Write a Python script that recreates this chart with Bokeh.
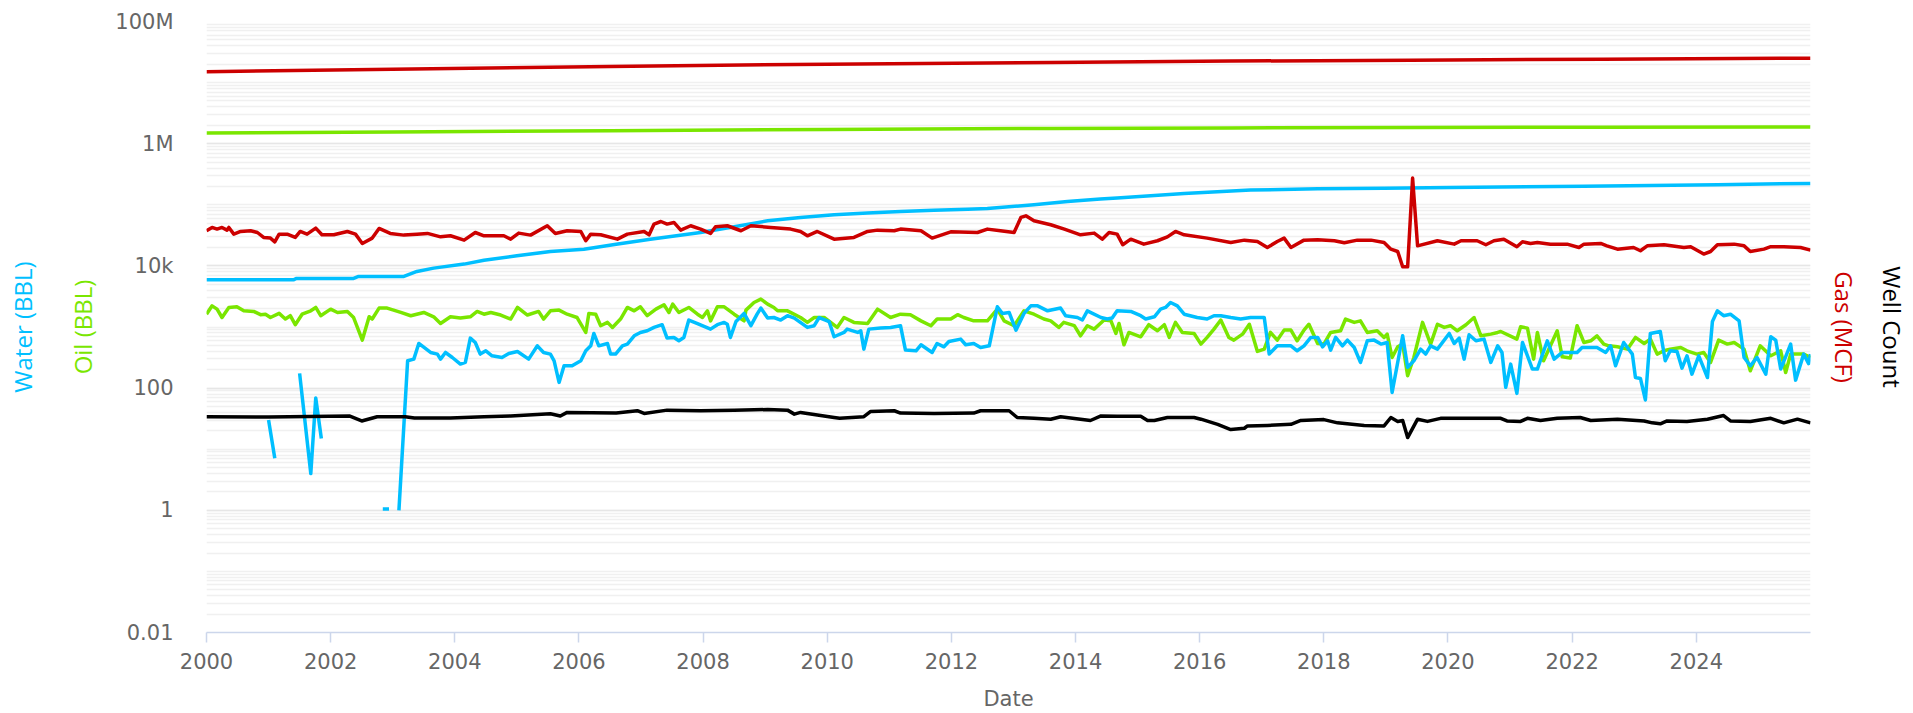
from bokeh.plotting import figure
from bokeh.models import Range1d, FixedTicker, CustomJSTickFormatter, NumeralTickFormatter, LinearAxis
from bokeh.embed import file_html
from bokeh.resources import INLINE

nan = float("nan")

# ---------------- data ----------------
cum_t = [2000.0, 2003.0, 2006.5, 2010.0, 2013.6, 2016.5, 2019.4, 2022.5, 2025.84]
gas_cum = [15.1e6, 16.5e6, 18.4e6, 20.0e6, 21.4e6, 22.5e6, 23.3e6, 24.2e6, 25.1e6]
oil_cum = [1.49e6, 1.56e6, 1.63e6, 1.71e6, 1.78e6, 1.81e6, 1.84e6, 1.86e6, 1.88e6]

water_cum = [
    (2000.0, 5930), (2001.4, 5930), (2001.45, 6230), (2002.37, 6230), (2002.45, 6710),
    (2003.18, 6710), (2003.39, 8110), (2003.66, 9200), (2004.15, 10700), (2004.47, 12400),
    (2005.0, 14600), (2005.54, 17200), (2006.08, 18800), (2006.6, 22700), (2007.15, 27400),
    (2007.96, 35200), (2008.5, 43700), (2009.04, 54700), (2009.57, 62100), (2010.11, 68700),
    (2010.65, 73100), (2011.18, 77800), (2011.72, 81800), (2012.26, 84900), (2012.58, 87100),
    (2013.33, 100000), (2013.87, 113000), (2014.4, 124000), (2014.67, 129000), (2015.75, 153000),
    (2016.82, 174000), (2017.9, 183000), (2018.97, 187000), (2020.04, 192000), (2022.19, 202000),
    (2024.34, 213000), (2025.84, 224000),
]

gas_monthly = [
    (2000.00, 37600), (2000.09, 42600), (2000.17, 40000), (2000.25, 42600), (2000.33, 38500),
    (2000.36, 42600), (2000.44, 33100), (2000.55, 36600), (2000.71, 37600), (2000.82, 35200),
    (2000.92, 29200), (2001.03, 28500), (2001.10, 24800), (2001.17, 33100), (2001.30, 33100),
    (2001.43, 29200), (2001.51, 36600), (2001.62, 33100), (2001.76, 41500), (2001.86, 32300),
    (2002.05, 32300), (2002.27, 36600), (2002.40, 33100), (2002.51, 23300), (2002.67, 28500),
    (2002.78, 41000), (2002.96, 34000), (2003.18, 31900), (2003.39, 33100), (2003.56, 34000),
    (2003.77, 29900), (2003.93, 31100), (2004.15, 26400), (2004.33, 35200), (2004.47, 31100),
    (2004.79, 31100), (2004.90, 27400), (2005.03, 34400), (2005.22, 31900), (2005.49, 45400),
    (2005.62, 34000), (2005.81, 37600), (2006.03, 36600), (2006.11, 25800), (2006.19, 33100),
    (2006.35, 32300), (2006.62, 27400), (2006.78, 33100), (2007.05, 36600), (2007.13, 32300),
    (2007.21, 48300), (2007.32, 53300), (2007.42, 48300), (2007.53, 51400), (2007.64, 38500),
    (2007.80, 45400), (2007.96, 40000), (2008.12, 34000), (2008.20, 43700), (2008.39, 45400),
    (2008.61, 37600), (2008.77, 45400), (2009.09, 42600), (2009.41, 40000), (2009.57, 36600),
    (2009.68, 31100), (2009.84, 36600), (2010.11, 27400), (2010.43, 29200), (2010.65, 36600),
    (2010.81, 38500), (2011.08, 37600), (2011.18, 40000), (2011.51, 37600), (2011.69, 28500),
    (2011.99, 36100), (2012.42, 35200), (2012.58, 40000), (2012.79, 37600), (2013.01, 35200),
    (2013.12, 62100), (2013.20, 66100), (2013.33, 54700), (2013.60, 47100), (2013.82, 40000),
    (2014.08, 32300), (2014.30, 34400), (2014.43, 27400), (2014.54, 35200), (2014.67, 33100),
    (2014.76, 22200), (2014.89, 27400), (2015.10, 22700), (2015.32, 25800), (2015.48, 29900),
    (2015.61, 36600), (2015.75, 32300), (2016.12, 28500), (2016.50, 24200), (2016.72, 26400),
    (2016.93, 25100), (2017.09, 20000), (2017.25, 25100), (2017.36, 28500), (2017.47, 20000),
    (2017.68, 26400), (2017.90, 26700), (2018.17, 25800), (2018.33, 23900), (2018.54, 26400),
    (2018.76, 26400), (2018.97, 24200), (2019.08, 18800), (2019.19, 17200), (2019.27, 9660),
    (2019.35, 9660), (2019.43, 274000), (2019.51, 21300), (2019.83, 25800), (2020.10, 22700),
    (2020.21, 25800), (2020.47, 25800), (2020.61, 22200), (2020.74, 25800), (2020.90, 27400),
    (2021.11, 20600), (2021.20, 24800), (2021.33, 23300), (2021.44, 24200), (2021.65, 22700),
    (2021.92, 22700), (2022.11, 20000), (2022.19, 22700), (2022.46, 23300), (2022.56, 21300),
    (2022.73, 18800), (2022.99, 20000), (2023.10, 17700), (2023.21, 21300), (2023.48, 22200),
    (2023.80, 20000), (2023.91, 20600), (2024.12, 15600), (2024.23, 17200), (2024.34, 22200),
    (2024.61, 22700), (2024.77, 21300), (2024.87, 17200), (2025.09, 18800), (2025.20, 20600),
    (2025.41, 20600), (2025.68, 20000), (2025.84, 18100),
]

oil_monthly = [
    (2000.00, 1620), (2000.09, 2220), (2000.17, 1960), (2000.25, 1430), (2000.36, 2090),
    (2000.49, 2140), (2000.60, 1840), (2000.76, 1800), (2000.87, 1590), (2000.95, 1620),
    (2001.03, 1430), (2001.17, 1670), (2001.27, 1350), (2001.35, 1530), (2001.43, 1090),
    (2001.54, 1620), (2001.68, 1840), (2001.76, 2090), (2001.84, 1530), (2002.00, 1960),
    (2002.11, 1730), (2002.27, 1800), (2002.37, 1430), (2002.51, 610), (2002.62, 1470),
    (2002.67, 1350), (2002.78, 2040), (2002.91, 2040), (2003.13, 1730), (2003.29, 1530),
    (2003.50, 1730), (2003.66, 1470), (2003.77, 1140), (2003.93, 1470), (2004.09, 1400),
    (2004.25, 1470), (2004.36, 1800), (2004.47, 1620), (2004.58, 1730), (2004.74, 1570),
    (2004.90, 1350), (2005.01, 2090), (2005.17, 1570), (2005.35, 1800), (2005.43, 1350),
    (2005.54, 1840), (2005.68, 1890), (2005.81, 1620), (2005.97, 1430), (2006.11, 815),
    (2006.16, 1670), (2006.27, 1620), (2006.35, 1050), (2006.46, 1190), (2006.54, 984),
    (2006.67, 1350), (2006.78, 2090), (2006.89, 1840), (2006.99, 2140), (2007.10, 1530),
    (2007.24, 1960), (2007.37, 2310), (2007.45, 1730), (2007.51, 2370), (2007.61, 1730),
    (2007.77, 2090), (2007.91, 1620), (2007.99, 1430), (2008.07, 1840), (2008.12, 1260),
    (2008.23, 2140), (2008.34, 2140), (2008.50, 1620), (2008.66, 1260), (2008.69, 1890),
    (2008.82, 2520), (2008.93, 2860), (2009.04, 2370), (2009.14, 2090), (2009.20, 1840),
    (2009.36, 1840), (2009.57, 1430), (2009.68, 1190), (2009.79, 1430), (2009.95, 1430),
    (2010.16, 984), (2010.27, 1430), (2010.43, 1190), (2010.65, 1140), (2010.81, 1960),
    (2011.02, 1430), (2011.18, 1620), (2011.34, 1590), (2011.51, 1260), (2011.67, 1050),
    (2011.77, 1350), (2011.99, 1350), (2012.10, 1590), (2012.20, 1430), (2012.36, 1260),
    (2012.58, 1260), (2012.74, 1960), (2012.85, 1260), (2013.01, 1050), (2013.17, 1840),
    (2013.33, 1620), (2013.49, 1350), (2013.60, 1260), (2013.73, 984), (2013.81, 1190),
    (2013.98, 1050), (2014.08, 718), (2014.19, 1050), (2014.30, 923), (2014.46, 1300),
    (2014.57, 1260), (2014.65, 784), (2014.70, 1140), (2014.78, 512), (2014.86, 815),
    (2015.05, 692), (2015.18, 1090), (2015.32, 867), (2015.43, 1090), (2015.51, 675),
    (2015.61, 1190), (2015.72, 815), (2015.91, 784), (2016.02, 525), (2016.12, 675),
    (2016.23, 923), (2016.34, 1300), (2016.47, 675), (2016.55, 610), (2016.69, 764),
    (2016.80, 1110), (2016.93, 398), (2017.04, 434), (2017.14, 815), (2017.25, 610),
    (2017.36, 889), (2017.47, 889), (2017.57, 595), (2017.68, 889), (2017.76, 1110),
    (2017.90, 538), (2018.00, 525), (2018.11, 815), (2018.27, 867), (2018.35, 1350),
    (2018.49, 1190), (2018.59, 1260), (2018.70, 815), (2018.86, 867), (2018.97, 675),
    (2019.02, 764), (2019.10, 317), (2019.19, 474), (2019.27, 525), (2019.35, 159),
    (2019.45, 317), (2019.59, 1190), (2019.72, 525), (2019.83, 1110), (2019.94, 984),
    (2020.04, 1050), (2020.15, 867), (2020.29, 1090), (2020.42, 1430), (2020.53, 718),
    (2020.69, 764), (2020.80, 815), (2020.85, 845), (2021.11, 634), (2021.17, 1010),
    (2021.28, 959), (2021.38, 298), (2021.44, 815), (2021.54, 280), (2021.65, 492),
    (2021.76, 867), (2021.84, 325), (2021.97, 310), (2022.08, 1050), (2022.19, 558),
    (2022.30, 595), (2022.40, 718), (2022.51, 525), (2022.59, 492), (2022.73, 474),
    (2022.89, 434), (2023.02, 675), (2023.16, 538), (2023.26, 634), (2023.37, 360),
    (2023.48, 408), (2023.58, 434), (2023.75, 462), (2023.85, 408), (2024.01, 360),
    (2024.12, 383), (2024.23, 263), (2024.36, 610), (2024.50, 525), (2024.61, 558),
    (2024.77, 434), (2024.87, 192), (2025.03, 492), (2025.20, 338), (2025.36, 408),
    (2025.44, 180), (2025.52, 360), (2025.73, 360), (2025.84, 317),
]

water_monthly = [
    (2001.00, 30), (2001.10, 7.1), (2001.30, nan),
    (2001.50, 174), (2001.68, 4.0), (2001.76, 69), (2001.85, 15), (2002.30, nan),
    (2002.84, 1.05), (2002.94, 1.05), (2003.02, nan),
    (2003.10, 1.0), (2003.24, 280), (2003.34, 298), (2003.42, 538), (2003.61, 383),
    (2003.72, 360), (2003.77, 298), (2003.85, 383), (2003.96, 317), (2004.09, 247),
    (2004.17, 263), (2004.25, 658), (2004.33, 558), (2004.41, 360), (2004.50, 408),
    (2004.60, 338), (2004.76, 317), (2004.87, 369), (2005.01, 398), (2005.19, 298),
    (2005.33, 492), (2005.43, 383), (2005.54, 360), (2005.60, 280), (2005.68, 124),
    (2005.76, 232), (2005.89, 232), (2006.03, 280), (2006.11, 408), (2006.19, 492),
    (2006.24, 784), (2006.32, 492), (2006.46, 538), (2006.51, 360), (2006.59, 360),
    (2006.70, 492), (2006.78, 525), (2006.89, 718), (2006.99, 815), (2007.10, 867),
    (2007.21, 984), (2007.34, 1090), (2007.42, 658), (2007.53, 675), (2007.61, 595),
    (2007.69, 675), (2007.77, 1300), (2007.91, 1140), (2008.12, 923), (2008.23, 1090),
    (2008.34, 1190), (2008.39, 1110), (2008.44, 675), (2008.53, 1230), (2008.66, 1670),
    (2008.77, 1050), (2008.87, 1620), (2008.93, 2040), (2009.04, 1400), (2009.14, 1430),
    (2009.25, 1300), (2009.36, 1530), (2009.47, 1400), (2009.68, 984), (2009.79, 1050),
    (2009.87, 1430), (2010.03, 1230), (2010.11, 692), (2010.27, 815), (2010.32, 923),
    (2010.49, 815), (2010.54, 867), (2010.59, 434), (2010.67, 923), (2010.86, 959),
    (2011.02, 984), (2011.18, 1050), (2011.26, 419), (2011.43, 408), (2011.51, 512),
    (2011.69, 383), (2011.77, 538), (2011.88, 474), (2011.96, 580), (2012.15, 634),
    (2012.23, 512), (2012.36, 538), (2012.47, 462), (2012.61, 492), (2012.74, 2140),
    (2012.82, 1670), (2012.93, 1730), (2013.04, 889), (2013.17, 1670), (2013.28, 2220),
    (2013.39, 2220), (2013.55, 1840), (2013.76, 2040), (2013.84, 1530), (2014.03, 1430),
    (2014.11, 1300), (2014.19, 1840), (2014.41, 1430), (2014.51, 1350), (2014.59, 1400),
    (2014.67, 1840), (2014.89, 1800), (2015.05, 1530), (2015.13, 1350), (2015.27, 1470),
    (2015.37, 1960), (2015.45, 2090), (2015.53, 2520), (2015.64, 2220), (2015.75, 1620),
    (2015.96, 1430), (2016.12, 1350), (2016.23, 1530), (2016.34, 1530), (2016.50, 1430),
    (2016.66, 1350), (2016.82, 1430), (2017.04, 1430), (2017.12, 360), (2017.25, 492),
    (2017.47, 492), (2017.57, 408), (2017.68, 492), (2017.79, 675), (2017.90, 675),
    (2017.98, 474), (2018.06, 595), (2018.11, 419), (2018.19, 675), (2018.30, 492),
    (2018.38, 610), (2018.49, 462), (2018.59, 263), (2018.70, 595), (2018.81, 610),
    (2018.92, 525), (2019.02, 558), (2019.10, 85), (2019.27, 718), (2019.35, 218),
    (2019.45, 280), (2019.56, 434), (2019.64, 360), (2019.72, 492), (2019.83, 434),
    (2020.02, 784), (2020.10, 538), (2020.18, 658), (2020.26, 298), (2020.34, 746),
    (2020.45, 595), (2020.58, 634), (2020.69, 263), (2020.80, 492), (2020.87, 383),
    (2020.93, 103), (2021.01, 247), (2021.11, 82), (2021.20, 558), (2021.36, 205),
    (2021.44, 205), (2021.60, 595), (2021.71, 298), (2021.84, 383), (2022.08, 383),
    (2022.16, 462), (2022.40, 462), (2022.54, 383), (2022.62, 492), (2022.70, 232),
    (2022.83, 558), (2022.97, 360), (2023.02, 149), (2023.10, 144), (2023.18, 64),
    (2023.26, 784), (2023.42, 845), (2023.50, 280), (2023.58, 408), (2023.69, 398),
    (2023.77, 212), (2023.85, 338), (2023.93, 169), (2024.04, 338), (2024.18, 149),
    (2024.26, 1230), (2024.34, 1840), (2024.44, 1530), (2024.55, 1620), (2024.69, 1260),
    (2024.77, 317), (2024.87, 232), (2024.98, 317), (2025.12, 169), (2025.20, 692),
    (2025.28, 610), (2025.36, 205), (2025.52, 525), (2025.60, 135), (2025.73, 360),
    (2025.81, 252), (2025.84, 360),
]

well_count = [
    (2000.00, 34), (2001.00, 33.5), (2002.30, 35), (2002.50, 29), (2002.75, 34),
    (2003.20, 34), (2003.35, 32.5), (2003.93, 32.5), (2004.47, 34), (2004.90, 35),
    (2005.54, 38), (2005.70, 35), (2005.81, 40), (2006.60, 39), (2006.94, 42.6),
    (2007.05, 38.5), (2007.42, 43.6), (2007.96, 42.6), (2008.50, 43.6), (2009.04, 44.6),
    (2009.36, 43.6), (2009.47, 37.5), (2009.57, 40), (2010.11, 33), (2010.20, 32),
    (2010.59, 34), (2010.70, 41.5), (2011.08, 42.6), (2011.18, 39), (2011.72, 38.5),
    (2012.36, 39), (2012.47, 42.6), (2012.93, 42.6), (2013.06, 33), (2013.33, 32),
    (2013.60, 31), (2013.76, 34), (2014.24, 29.5), (2014.41, 35), (2014.67, 34.5),
    (2015.05, 34.5), (2015.16, 29.5), (2015.27, 29.5), (2015.48, 33), (2015.91, 33),
    (2016.02, 31), (2016.29, 25.5), (2016.50, 21), (2016.72, 22), (2016.77, 24),
    (2017.09, 24.5), (2017.47, 25.5), (2017.63, 29.5), (2018.00, 30.5), (2018.22, 27),
    (2018.65, 24.5), (2018.97, 24), (2019.08, 33), (2019.19, 28.5), (2019.27, 29.5),
    (2019.35, 15.5), (2019.51, 31), (2019.67, 28.5), (2019.88, 32), (2020.85, 32),
    (2020.95, 29), (2021.17, 28.5), (2021.28, 32), (2021.49, 29.5), (2021.76, 32),
    (2022.13, 33), (2022.30, 29.5), (2022.73, 31), (2023.16, 29), (2023.29, 27),
    (2023.42, 26), (2023.53, 29), (2023.85, 28.5), (2024.18, 31), (2024.44, 35.5),
    (2024.55, 29), (2024.87, 28.5), (2025.20, 32), (2025.41, 27), (2025.63, 31),
    (2025.84, 27),
]

x_ticks = [2000, 2002, 2004, 2006, 2008, 2010, 2012, 2014, 2016, 2018, 2020, 2022, 2024]
y_ticks = [0.01, 1, 100, 1e4, 1e6, 1e8]

# ---------------- colours / styles ----------------
RED = "#CC0000"
GREEN = "#7AE600"
BLUE = "#00BFFF"
BLACK = "#000000"
GREY = "#666666"

W, H = 1913, 713
p = figure(width=W, height=H, x_range=Range1d(2000, 2025.84), y_range=Range1d(0.01, 1e8),
           y_axis_type="log", output_backend="svg", toolbar_location=None,
           min_border_left=206, min_border_right=103, min_border_top=21, min_border_bottom=81)
p.outline_line_color = None
p.background_fill_color = "white"
p.border_fill_color = "white"

minor = [k * 10.0 ** d for d in range(-2, 8) for k in range(1, 10)]
p.yaxis.ticker = FixedTicker(ticks=y_ticks, minor_ticks=minor)
p.yaxis.formatter = CustomJSTickFormatter(code="""
if (tick >= 1e6) return (tick/1e6).toFixed(0) + 'M';
if (tick >= 1e3) return (tick/1e3).toFixed(0) + 'k';
return String(tick);
""")
p.yaxis.axis_line_color = None
p.yaxis.major_tick_line_color = None
p.yaxis.minor_tick_line_color = None
p.yaxis.major_tick_out = 0
p.yaxis.minor_tick_out = 0
p.yaxis.major_label_text_color = GREY
p.yaxis.major_label_text_font = "DejaVu Sans"
p.yaxis.major_label_text_font_size = "21px"
p.yaxis.major_label_standoff = 33

p.ygrid.grid_line_color = "#e6e6e6"
p.ygrid.grid_line_width = 1.5
p.ygrid.minor_grid_line_color = "#f0f0f0"
p.ygrid.minor_grid_line_width = 1.5
p.xgrid.grid_line_color = None

p.xaxis.ticker = FixedTicker(ticks=x_ticks, minor_ticks=[])
p.xaxis.formatter = NumeralTickFormatter(format="0")
p.xaxis.axis_line_color = "#ccd6eb"
p.xaxis.axis_line_width = 1.5
p.xaxis.major_tick_line_color = "#ccd6eb"
p.xaxis.major_tick_line_width = 1.5
p.xaxis.major_tick_in = 0
p.xaxis.major_tick_out = 10
p.xaxis.minor_tick_line_color = None
p.xaxis.major_label_text_color = GREY
p.xaxis.major_label_text_font = "DejaVu Sans"
p.xaxis.major_label_text_font_size = "21px"
p.xaxis.major_label_standoff = 10
p.xaxis.axis_label = "Date"
p.xaxis.axis_label_text_color = GREY
p.xaxis.axis_label_text_font = "DejaVu Sans"
p.xaxis.axis_label_text_font_size = "21px"
p.xaxis.axis_label_text_font_style = "normal"
p.xaxis.axis_label_standoff = 15


def title_axis(label, color, side, standoff):
    ax = LinearAxis(axis_label=label, ticker=FixedTicker(ticks=[], minor_ticks=[]),
                    axis_line_color=None, major_tick_line_color=None, minor_tick_line_color=None,
                    major_tick_out=0, major_tick_in=0, minor_tick_out=0, minor_tick_in=0,
                    major_label_standoff=0, major_label_text_font_size="0px",
                    axis_label_text_color=color, axis_label_text_font="Open Sans",
                    axis_label_text_font_size="24px", axis_label_text_font_style="normal",
                    axis_label_standoff=standoff)
    p.add_layout(ax, side)


title_axis("Oil (BBL)", GREEN, "left", 14)
title_axis("Water (BBL)", BLUE, "left", 24)
title_axis("Gas (MCF)", RED, "right", 17)
title_axis("Well Count", BLACK, "right", 12)


def split(pairs):
    return [a for a, b in pairs], [b for a, b in pairs]


lw = 3.5
p.line(cum_t, gas_cum, line_color=RED, line_width=lw, line_join="round")
p.line(cum_t, oil_cum, line_color=GREEN, line_width=lw, line_join="round")
wx, wy = split(water_cum)
p.line(wx, wy, line_color=BLUE, line_width=lw, line_join="round")
gx, gy = split(gas_monthly)
p.line(gx, gy, line_color=RED, line_width=lw, line_join="round")
ox, oy = split(oil_monthly)
p.line(ox, oy, line_color=GREEN, line_width=lw, line_join="round")
qx, qy = split(water_monthly)
p.line(qx, qy, line_color=BLUE, line_width=lw, line_join="round")
kx, ky = split(well_count)
p.line(kx, ky, line_color=BLACK, line_width=lw, line_join="round")

open("out.html", "w").write(file_html(p, INLINE))
